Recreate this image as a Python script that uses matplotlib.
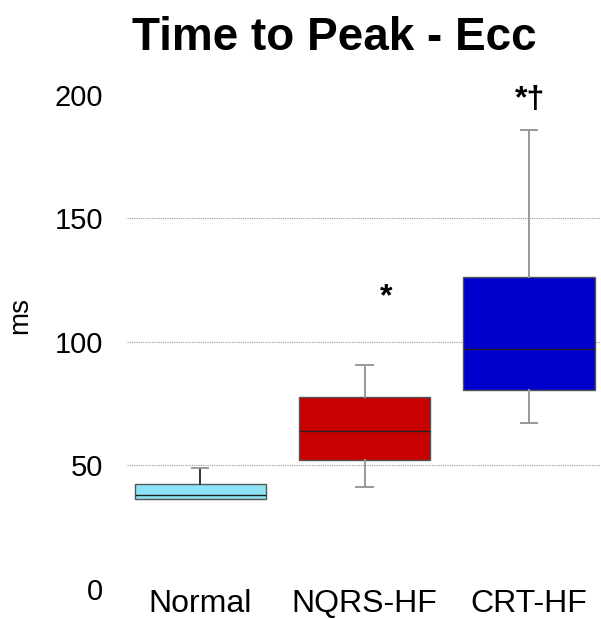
import matplotlib
matplotlib.use("Agg")
import matplotlib.pyplot as plt

plt.rcParams['font.family'] = ['Liberation Sans', 'DejaVu Sans']

groups = ["Normal", "NQRS-HF", "CRT-HF"]
whisker_low = [36.2, 41.1, 67.0]
q1 = [36.2, 52.0, 80.4]
median = [37.9, 63.8, 97.0]
q3 = [42.3, 77.5, 126.1]
whisker_high = [48.8, 90.5, 185.6]
box_colors = ["#8ee4f6", "#c80000", "#0000cc"]
sig_labels = ["", "*", "*†"]
sig_y = [None, 118, 198]
yticks = [0, 50, 100, 150, 200]

W, H = 601, 619
fig = plt.figure(figsize=(W / 100, H / 100), dpi=100)
ax = fig.add_axes([0.211, 0.049, 0.787, 0.798])

stats = []
for i, g in enumerate(groups):
    stats.append(dict(label=g, whislo=whisker_low[i], q1=q1[i], med=median[i],
                      q3=q3[i], whishi=whisker_high[i], fliers=[]))

positions = list(range(len(groups)))
bp = ax.bxp(stats, positions=positions, widths=0.8, patch_artist=True,
            showfliers=False,
            boxprops=dict(edgecolor="#555555", linewidth=1.0),
            medianprops=dict(color="#222222", linewidth=1.0),
            whiskerprops=dict(color="#999999", linewidth=1.4),
            capprops=dict(color="#999999", linewidth=1.4),
            capwidths=0.1, zorder=3)
for patch, c in zip(bp["boxes"], box_colors):
    patch.set_facecolor(c)
bp["whiskers"][1].set_color("#333333")
# no lower whisker when it coincides with the box edge
for i in range(len(groups)):
    if whisker_low[i] >= q1[i]:
        bp["whiskers"][2 * i].set_visible(False)
        bp["caps"][2 * i].set_visible(False)

for i, (lab, yv) in enumerate(zip(sig_labels, sig_y)):
    if lab:
        dx = 0.13 if len(lab) == 1 else 0.01
        ax.text(positions[i] + dx, yv, lab, ha="center", va="center",
                fontsize=23, fontweight="bold", clip_on=False)

ax.set_xlim(-0.447, 2.432)
ax.set_ylim(0, 200)
ax.set_yticks(yticks)
ax.set_yticklabels([str(t) for t in yticks], fontsize=21)
ax.set_xticks(positions)
ax.set_xticklabels(groups, fontsize=23, va="baseline")
ax.tick_params(axis="y", length=0, pad=17)
ax.tick_params(axis="x", length=0, pad=16.5)
for s in ax.spines.values():
    s.set_visible(False)
for t in yticks[1:-1]:
    ax.axhline(t, color="#999999", linestyle=(0, (1, 1)), linewidth=0.8, zorder=1)

fig.text(20 / W, 1 - 315 / H, "ms", rotation=90, ha="center", va="center",
         fontsize=20)
fig.text(334.5 / W, 1 - 50 / H, "Time to Peak - Ecc", ha="center",
         va="baseline", fontsize=33, fontweight="bold")

fig.savefig("out.png", dpi=100)
